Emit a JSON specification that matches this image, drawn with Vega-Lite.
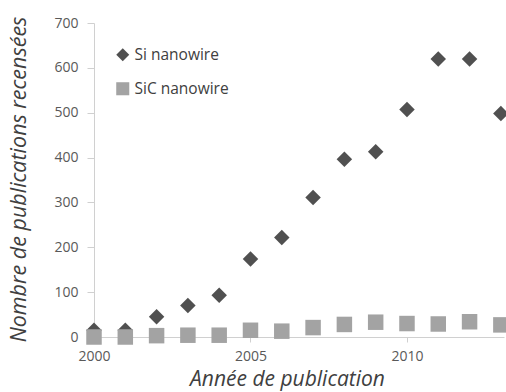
{
  "$schema": "https://vega.github.io/schema/vega-lite/v6.json",
  "width": 410,
  "height": 314,
  "autosize": {"type": "none"},
  "padding": {"left": 94, "top": 23, "right": 2, "bottom": 55},
  "background": "white",
  "config": {
    "view": {"stroke": null},
    "font": "Open Sans"
  },
  "data": {
    "values": [
      {"year": 2000, "series": "Si nanowire", "count": 15},
      {"year": 2001, "series": "Si nanowire", "count": 15},
      {"year": 2002, "series": "Si nanowire", "count": 45},
      {"year": 2003, "series": "Si nanowire", "count": 70},
      {"year": 2004, "series": "Si nanowire", "count": 93},
      {"year": 2005, "series": "Si nanowire", "count": 174},
      {"year": 2006, "series": "Si nanowire", "count": 222},
      {"year": 2007, "series": "Si nanowire", "count": 311},
      {"year": 2008, "series": "Si nanowire", "count": 396},
      {"year": 2009, "series": "Si nanowire", "count": 413},
      {"year": 2010, "series": "Si nanowire", "count": 507},
      {"year": 2011, "series": "Si nanowire", "count": 620},
      {"year": 2012, "series": "Si nanowire", "count": 620},
      {"year": 2013, "series": "Si nanowire", "count": 498},
      {"year": 2000, "series": "SiC nanowire", "count": 0},
      {"year": 2001, "series": "SiC nanowire", "count": 0},
      {"year": 2002, "series": "SiC nanowire", "count": 3},
      {"year": 2003, "series": "SiC nanowire", "count": 4},
      {"year": 2004, "series": "SiC nanowire", "count": 4},
      {"year": 2005, "series": "SiC nanowire", "count": 15},
      {"year": 2006, "series": "SiC nanowire", "count": 13},
      {"year": 2007, "series": "SiC nanowire", "count": 21},
      {"year": 2008, "series": "SiC nanowire", "count": 28},
      {"year": 2009, "series": "SiC nanowire", "count": 33},
      {"year": 2010, "series": "SiC nanowire", "count": 30},
      {"year": 2011, "series": "SiC nanowire", "count": 29},
      {"year": 2012, "series": "SiC nanowire", "count": 34},
      {"year": 2013, "series": "SiC nanowire", "count": 27}
    ]
  },
  "mark": {"type": "point", "filled": true, "opacity": 1, "size": 240, "clip": false},
  "encoding": {
    "x": {
      "field": "year",
      "type": "quantitative",
      "scale": {"domain": [2000, 2013.1], "nice": false, "zero": false},
      "axis": {
        "values": [2000, 2005, 2010],
        "format": "d",
        "title": "Année de publication",
        "titleFontStyle": "italic",
        "titleFontWeight": "normal",
        "titleFontSize": 21,
        "titleColor": "#404040",
        "titleX": 193,
        "titleY": 48,
        "titleAlign": "center",
        "titleBaseline": "alphabetic",
        "labelFontSize": 14,
        "labelColor": "#595959",
        "labelPadding": 7,
        "domainColor": "#d0d0d0",
        "tickColor": "#d0d0d0",
        "tickSize": 5,
        "grid": false,
        "labelFlush": false
      }
    },
    "y": {
      "field": "count",
      "type": "quantitative",
      "scale": {"domain": [0, 700], "nice": false},
      "axis": {
        "values": [0, 100, 200, 300, 400, 500, 600, 700],
        "title": "Nombre de publications recensées",
        "titleFontStyle": "italic",
        "titleFontWeight": "normal",
        "titleFontSize": 21.5,
        "titleColor": "#404040",
        "titleX": -75,
        "titleY": 156,
        "titleAngle": -90,
        "titleAlign": "center",
        "titleBaseline": "middle",
        "labelFontSize": 14,
        "labelColor": "#595959",
        "labelPadding": 9,
        "domainColor": "#d0d0d0",
        "tickColor": "#d0d0d0",
        "tickSize": 7,
        "grid": false
      }
    },
    "color": {
      "field": "series",
      "type": "nominal",
      "scale": {"domain": ["Si nanowire", "SiC nanowire"], "range": ["#505050", "#a3a3a3"]},
      "legend": {
        "title": null,
        "orient": "none",
        "legendX": 21,
        "legendY": 24,
        "symbolSize": 170,
        "labelFontSize": 15.5,
        "labelColor": "#404040",
        "labelOffset": 4,
        "rowPadding": 17,
        "padding": 0
      }
    },
    "shape": {
      "field": "series",
      "type": "nominal",
      "scale": {"domain": ["Si nanowire", "SiC nanowire"], "range": ["diamond", "square"]}
    }
  }
}
